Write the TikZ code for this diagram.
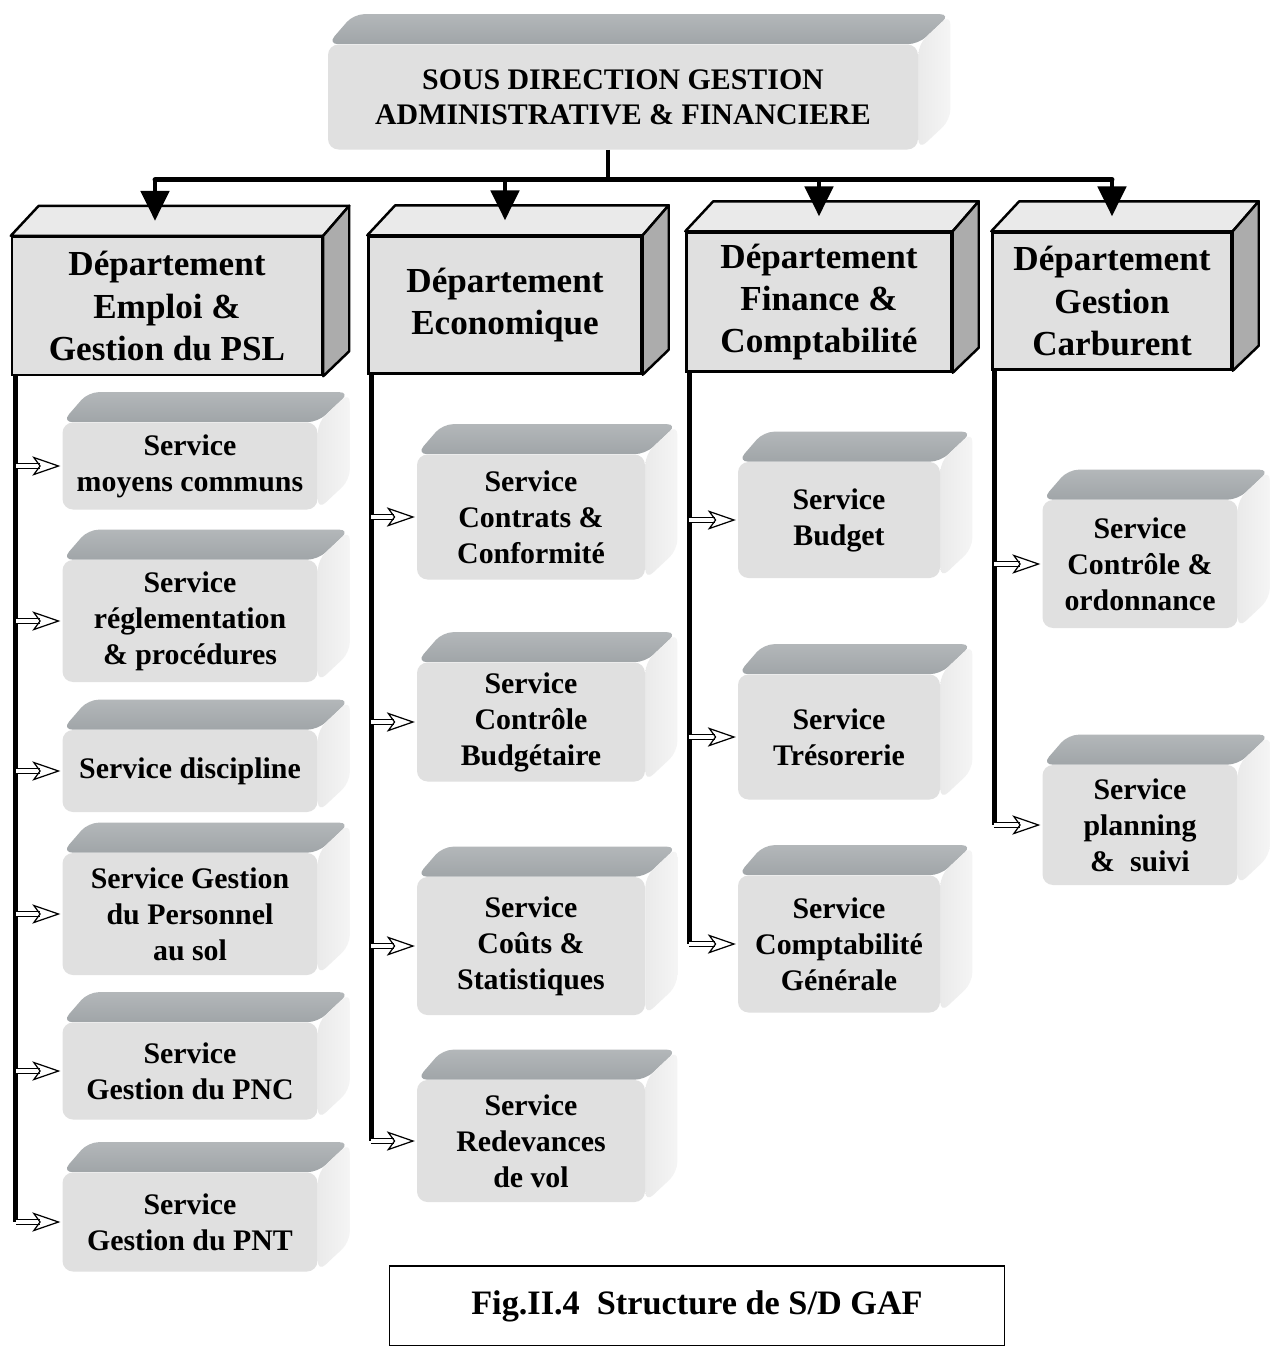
\documentclass[tikz,border=0pt]{standalone}
\usepackage{fontspec}
\setmainfont{Liberation Serif}
\usetikzlibrary{arrows.meta,calc,backgrounds}

\definecolor{facegray}{RGB}{224,224,224}
\definecolor{roofgray}{RGB}{160,165,168}
\definecolor{wallgray}{RGB}{234,234,234}
\definecolor{deptroof}{RGB}{234,234,234}
\definecolor{deptwall}{RGB}{172,172,172}

\begin{document}
\begin{tikzpicture}[x=0.02cm, y=-0.02cm,
			wd/.style={minimum width=#1*0.02cm},
			ht/.style={minimum height=#1*0.02cm},
			svc/.style={fill=facegray, rounded corners=6pt, inner sep=0pt, align=center,
			            font=\fontsize{17}{20.5}\selectfont\bfseries},
			dept/.style={draw, line width=1.4pt, fill=facegray, inner sep=0pt, align=center,
			             font=\fontsize{20}{24}\selectfont\bfseries},
			bus/.style={line width=2.8pt},
			drop/.style={line width=2.6pt, -{Triangle[length=17pt, width=16pt]}},
			vline/.style={line width=2.8pt},
			hollow/.style={double=white, double distance=2.4pt, line width=0.7pt,
			               -{Stealth[open, length=16pt, width=11pt, inset=4pt, line width=0.7pt]}}]

			\useasboundingbox (0,0) rectangle (1276,1346);

			% sous direction
			\node [svc, wd=590, ht=105, font=\fontsize{17}{20}\selectfont\bfseries] (top) at (623,97) {SOUS DIRECTION GESTION\\ADMINISTRATIVE \& FINANCIERE};

			% departements
			\node [dept, wd=310, ht=138] (d1) at (167,306) {D\'epartement\\Emploi \&\\Gestion du PSL};
			\node [dept, wd=273, ht=137] (d2) at (505,305) {D\'epartement\\Economique};
			\node [dept, wd=265, ht=139] (d3) at (819,302) {D\'epartement\\Finance \&\\Comptabilit\'e};
			\node [dept, wd=239, ht=137] (d4) at (1112,301) {D\'epartement\\Gestion\\Carburent};

			% services of the first column
			\node [svc, wd=255, ht=87] (a1) at (190,466) {Service\\moyens communs};
			\node [svc, wd=255, ht=122] (a2) at (190,621) {Service\\r\'eglementation\\\& proc\'edures};
			\node [svc, wd=255, ht=82] (a3) at (190,771) {Service discipline};
			\node [svc, wd=255, ht=122] (a4) at (190,914) {Service Gestion\\du Personnel\\au sol};
			\node [svc, wd=255, ht=97] (a5) at (190,1071) {Service\\Gestion du PNC};
			\node [svc, wd=255, ht=99] (a6) at (190,1222) {Service\\Gestion du PNT};

			% services of the second column
			\node [svc, wd=228, ht=125] (b1) at (531,517) {Service\\Contrats \&\\Conformit\'e};
			\node [svc, wd=228, ht=119] (b2) at (531,722) {Service\\Contr\^ole\\Budg\'etaire};
			\node [svc, wd=228, ht=138] (b3) at (531,946) {Service\\Co\^uts \&\\Statistiques};
			\node [svc, wd=228, ht=122] (b4) at (531,1141) {Service\\Redevances\\de vol};

			% services of the third column
			\node [svc, wd=202, ht=116] (c1) at (839,520) {Service\\Budget};
			\node [svc, wd=202, ht=125] (c2) at (839,737) {Service\\Tr\'esorerie};
			\node [svc, wd=202, ht=137] (c3) at (839,944) {Service\\Comptabilit\'e\\G\'en\'erale};

			% services of the fourth column
			\node [svc, wd=195, ht=128] (e1) at (1140,564) {Service\\Contr\^ole \&\\ordonnance};
			\node [svc, wd=195, ht=120] (e2) at (1140,825) {Service\\planning\\\&\ \ suivi};

			% caption
			\node [draw, line width=0.8pt, wd=615, ht=80, font=\fontsize{19.5}{23}\selectfont\bfseries] (cap) at (697,1306) {Fig.II.4\ \ Structure de S/D GAF};

			% soft faces behind the boxes
			\begin{scope}[on background layer]
				\fill [white] (0,0) rectangle (1276,1346);
				\foreach \n in {top,a1,a2,a3,a4,a5,a6,b1,b2,b3,b4,c1,c2,c3,e1,e2} {
					\shade [top color=roofgray!80, bottom color=roofgray, rounded corners=6pt] (\n.north west) -- ($(\n.north west)+(26,-30)$) -- ($(\n.north east)+(32,-30)$) -- (\n.north east) -- cycle;
					\shade [left color=wallgray, right color=white!96!black, rounded corners=6pt] (\n.north east) -- ($(\n.north east)+(32,-30)$) -- ($(\n.south east)+(32,-30)$) -- (\n.south east) -- cycle;
				}
			\end{scope}

			% hard faces of the departements
			\foreach \n in {d1,d2,d3,d4} {
				\filldraw [fill=deptroof, line width=1.4pt, line join=round] (\n.north west) -- ($(\n.north west)+(28,-30)$) -- ($(\n.north east)+(26,-30)$) -- (\n.north east) -- cycle;
				\filldraw [fill=deptwall, line width=1.4pt, line join=round] (\n.north east) -- ($(\n.north east)+(26,-30)$) -- ($(\n.south east)+(26,-25)$) -- (\n.south east) -- cycle;
			}

			% top connectors
			\coordinate (bus) at ($(top.south)+(-15,30)$);
			\draw [bus] (top.south -| bus) -- (bus);
			\draw [bus, line cap=round] ($(bus -| d1.north)+(-12,0)$) -- (bus -| d4.north);
			\draw [drop] ($(bus -| d1.north)+(-12,0)$) -- ($(d1.north)+(-12,-15)$);
			\draw [drop] (bus -| d2.north) -- ($(d2.north)+(0,-15)$);
			\draw [drop] (bus -| d3.north) -- ($(d3.north)+(0,-15)$);
			\draw [drop] (bus -| d4.north) -- ($(d4.north)+(0,-15)$);

			% vertical lines
			\coordinate (v1) at ($(d1.south west)+(5,0)$);
			\coordinate (v2) at ($(d2.south west)+(4,0)$);
			\coordinate (v3) at ($(d3.south west)+(4,0)$);
			\coordinate (v4) at ($(d4.south west)+(3,0)$);
			\draw [vline] (v1) -- (v1 |- a6.west);
			\draw [vline] (v2) -- (v2 |- b4.west);
			\draw [vline] (v3) -- (v3 |- c3.west);
			\draw [vline] (v4) -- (v4 |- e2.west);

			% hollow arrows to the services
			\foreach \n/\v in {a1/v1,a2/v1,a3/v1,a4/v1,a5/v1,a6/v1,b1/v2,b2/v2,b3/v2,b4/v2,c1/v3,c2/v3,c3/v3,e1/v4,e2/v4}
				\draw [hollow] (\v |- \n.west) -- ([xshift=-1pt]\n.west);
		\end{tikzpicture}
\end{document}
